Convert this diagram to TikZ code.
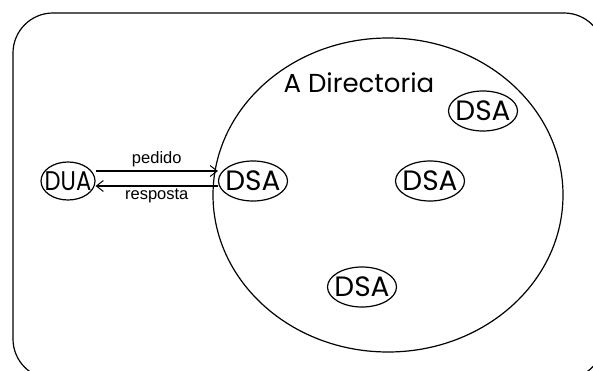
\documentclass[tikz,border=0pt]{standalone}
\usepackage{fontspec}
\setmainfont{Poppins}
\newfontfamily\labelfont{Liberation Sans}
\usetikzlibrary{shapes.geometric,arrows.meta}

\begin{document}
\begin{tikzpicture}[x=1pt,y=-1pt,line width=1.2pt]
	\tikzstyle{every node}+=[inner sep=0pt]
	\tikzstyle{agent}=[draw,ellipse,minimum width=69pt,minimum height=40pt,
		label={[font=\fontsize{28}{28}\selectfont]center:#1}]
	\tikzstyle{msg}=[font=\labelfont\fontsize{16.5}{16.5}\selectfont]
	\tikzstyle{req}=[-{Straight Barb[length=7pt,width=11pt,line width=1pt]}]
	\useasboundingbox (0,0) rectangle (593,371);
	% quadro exterior
	\draw [rounded corners=40pt] (13,13) rectangle (604,379);
	% a directoria
	\draw (388,195) ellipse [x radius=175, y radius=157];
	\node [font=\fontsize{26}{26}\selectfont,anchor=base west] (dir) at (283,93) {A Directoria};
	\node [draw,ellipse,minimum width=54pt,minimum height=38pt,
		label={[font=\fontsize{27}{27}\selectfont,xscale=0.84]center:DUA}] (dua) at (68,181) {};
	\node [agent=DSA] (dsa1) at (253,181) {};
	\node [agent=DSA] (dsa2) at (430,181) {};
	\node [agent=DSA] (dsa3) at (483,111) {};
	\node [agent=DSA] (dsa4) at (362,287) {};
	% pedido / resposta
	\draw [req] ([yshift=10pt]dua.east) -- ([yshift=10pt]dsa1.west)
		node [msg,midway,above=3pt] (ped) {pedido};
	\draw [req] ([yshift=-5pt]dsa1.west) -- ([yshift=-5pt]dua.east)
		node [msg,midway,below=2pt] (resp) {resposta};
\end{tikzpicture}
\end{document}
